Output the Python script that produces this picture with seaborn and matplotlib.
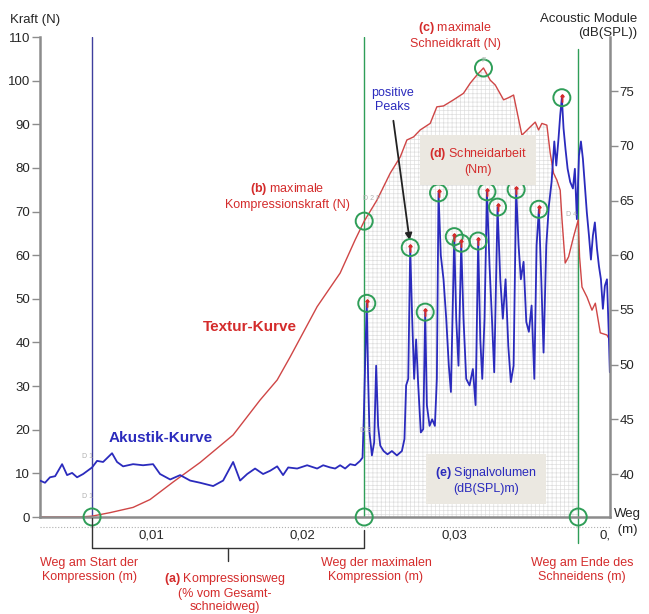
import numpy as np
import pandas as pd
import matplotlib
matplotlib.use('Agg')
import matplotlib.pyplot as plt
import seaborn as sns
from matplotlib.lines import Line2D

# Textur-Kurve: Weg (mm) und Kraft (N)
textur_mm = [2.64, 5.29, 6.08, 7.27, 8.79, 9.91, 11.43, 13.22, 15.40, 17.18, 18.31, 19.17,
             20.95, 22.47, 23.46, 24.06, 24.90, 25.78, 26.44, 26.88, 27.32, 27.76, 28.42,
             28.86, 29.30, 29.96, 30.62, 31.06, 31.51, 31.94, 32.39, 32.72, 33.27, 33.60,
             33.93, 34.48, 35.03, 35.36, 35.58, 35.80, 36.13, 36.35, 36.57, 36.79, 37.01,
             37.13, 37.34, 37.56, 37.89, 38.20, 38.29, 38.45, 38.78, 39.11, 39.33, 39.66,
             40.10, 40.27]
textur_kraft = [0, 0, 0.2, 1.0, 2.2, 4.0, 8.0, 12.5, 18.8, 26.8, 31.4, 36.7,
                48.2, 55.9, 63.5, 67.8, 72.6, 78.8, 82.5, 86.4, 87.1, 88.7, 90.2,
                94.0, 94.2, 95.6, 97.1, 99.4, 101.3, 102.9, 100.1, 99.0, 95.6, 96.1,
                96.7, 87.5, 89.4, 90.5, 88.7, 90.2, 89.8, 83.4, 78.8, 77.2, 74.9,
                68.1, 58.2, 59.6, 64.2, 68.1, 59.6, 52.7, 50.4, 47.4, 49.0, 42.2,
                41.7, 40.6]

# Akustik-Kurve: Weg (mm) und Schallpegel dB(SPL)
akustik_mm = [2.64, 2.97, 3.30, 3.64, 4.10, 4.43, 4.76, 5.09, 5.49, 6.08,
              6.41, 6.81, 7.40, 7.73, 8.13, 8.79, 9.45, 10.11, 10.57, 11.24,
              11.90, 12.56, 13.22, 14.08, 14.74, 15.40, 15.86, 16.33, 16.85, 17.38,
              17.85, 18.31, 18.70, 19.04, 19.63, 20.29, 20.95, 21.35,
              21.81, 22.14, 22.47, 22.80, 23.13, 23.46, 23.79, 23.95, 24.03, 24.15,
              24.23, 24.32, 24.41, 24.57, 24.72, 24.85, 24.98, 25.12, 25.34, 25.60,
              25.89, 26.22, 26.55, 26.72, 26.83, 26.97, 27.10, 27.23, 27.36, 27.49,
              27.63, 27.80, 27.96, 28.09, 28.20, 28.38, 28.55, 28.73, 28.86, 28.97,
              29.12, 29.30, 29.48, 29.65, 29.79, 30.01, 30.14, 30.29, 30.47, 30.62,
              30.80, 31.02, 31.24, 31.42, 31.59, 31.73, 31.86, 32.01, 32.17, 32.34,
              32.50, 32.65, 32.87, 33.05, 33.22, 33.40, 33.58, 33.75, 33.93, 34.10,
              34.26, 34.41, 34.59, 34.77, 34.94, 35.12, 35.30, 35.45, 35.60, 35.76,
              35.91, 36.09, 36.26, 36.44,
              36.62, 36.75, 36.90, 37.01, 37.12, 37.23, 37.36, 37.50, 37.67, 37.85,
              37.98, 38.11, 38.25, 38.38, 38.51, 38.64, 38.77, 38.91, 39.04, 39.17,
              39.30, 39.44, 39.57, 39.70, 39.83, 39.96, 40.10, 40.23, 40.29]
akustik_db = [39.4, 39.2, 39.7, 39.8, 40.9, 39.9, 40.1, 39.7, 40.0, 40.6,
              41.2, 41.1, 41.9, 41.1, 40.7, 40.9, 40.8, 40.9, 40.0, 39.5,
              39.9, 39.4, 39.2, 38.9, 39.4, 41.1, 39.4, 40.0, 40.5, 40.0,
              40.3, 40.7, 39.9, 40.6, 40.5, 40.8, 40.5, 40.8,
              40.6, 40.5, 40.8, 40.5, 40.9, 40.8, 41.2, 41.5, 45.0, 51.7,
              55.6, 48.7, 43.8, 41.7, 42.9, 49.9, 44.4, 42.6, 42.1, 41.8,
              42.1, 41.7, 42.1, 43.2, 48.1, 48.7, 60.7, 54.2, 48.7, 52.3,
              48.1, 43.8, 44.1, 54.8, 46.3, 44.4, 45.0, 44.4, 48.7, 65.7,
              60.0, 57.8, 54.2, 49.9, 47.5, 61.7, 54.2, 49.9, 61.1, 54.2,
              48.7, 48.1, 49.6, 46.3, 61.3, 52.3, 48.7, 54.2, 65.8, 59.1,
              54.2, 49.3, 64.4, 57.8, 54.2, 57.8, 51.7, 48.4, 49.9, 66.0,
              60.9, 57.8, 59.4, 53.9, 53.0, 55.4, 48.7, 60.9, 64.2, 57.8,
              51.1, 60.9, 64.5, 66.7,
              70.4, 68.2, 70.7, 72.8, 74.4, 71.6, 69.7, 67.9, 66.7, 66.1,
              67.9, 63.3, 69.1, 70.4, 68.8, 66.4, 63.9, 61.8, 59.6, 61.8,
              63.0, 60.6, 59.0, 57.8, 55.1, 57.2, 57.8, 52.3, 49.3]

# positive Peaks der Akustik-Kurve
peak_mm = [24.23, 27.10, 28.09, 28.97, 30.01, 30.47, 31.59, 32.17, 32.87, 34.10, 35.60, 37.12]
peak_db = [55.6, 60.7, 54.8, 65.7, 61.7, 61.1, 61.3, 65.8, 64.4, 66.0, 64.2, 74.4]

# Kennpunkte (m, N)
weg_start = 0.00608
weg_max_komp = 0.02406
weg_ende = 0.0382
kraft_max_komp = 67.8
weg_max_schneid = 0.03194
kraft_max_schneid = 102.9

x_ticks = [0.01, 0.02, 0.03, 0.04]
x_ticklabels = ['0,01', '0,02', '0,03', '0,']
kraft_ticks = list(range(0, 111, 10))
db_ticks = list(range(40, 76, 5))

RED = '#d42c2c'
LINE_RED = '#cf4646'
BLUE = '#2b2bbd'
GREEN = '#2f9e58'
GRAY = '#8c8c8c'
INK = '#262626'

sns.set_style('white')
plt.rcParams['font.family'] = ['Liberation Sans', 'DejaVu Sans']
plt.rcParams['mathtext.fontset'] = 'custom'
plt.rcParams['mathtext.rm'] = 'Liberation Sans'
plt.rcParams['mathtext.bf'] = 'Liberation Sans:bold'
plt.rcParams['hatch.linewidth'] = 0.5

W, H = 649, 614


def fx(px):
    return px / W


def fy(py):
    return 1 - py / H


fig = plt.figure(figsize=(W / 100, H / 100), dpi=100)
ax = fig.add_axes([fx(40), fy(517), 570 / W, 480 / H])
ax2 = ax.twinx()

textur = pd.DataFrame({'weg': np.array(textur_mm) / 1000, 'kraft': textur_kraft})
akustik = pd.DataFrame({'weg': np.array(akustik_mm) / 1000, 'db': akustik_db})
peaks = pd.DataFrame({'weg': np.array(peak_mm) / 1000, 'db': peak_db})

# Schneidarbeit: Flaeche unter der Textur-Kurve
sel = (textur.weg >= weg_max_komp - 1e-7) & (textur.weg <= weg_ende + 1e-7)
ax.fill_between(textur.weg[sel], 0, textur.kraft[sel], facecolor='none',
                edgecolor='#dedede', hatch='++++', lw=0, zorder=0)

sns.lineplot(data=textur, x='weg', y='kraft', ax=ax, color=LINE_RED, lw=1.0,
             sort=False, estimator=None, zorder=2)
sns.lineplot(data=akustik, x='weg', y='db', ax=ax2, color=BLUE, lw=1.3,
             sort=False, estimator=None, zorder=2)

ax.axvline(weg_start, color='#3f3f9e', lw=1.0, zorder=1)
ax.axvline(weg_max_komp, color=GREEN, lw=1.0, zorder=1)
ax.axvline(weg_ende, ymin=-0.054, ymax=0.975, color=GREEN, lw=1.0, zorder=1, clip_on=False)

# Kennpunkte
key_x = [weg_start, weg_max_komp, weg_ende, weg_max_komp, weg_max_schneid]
key_y = [0, 0, 0, kraft_max_komp, kraft_max_schneid]
ax.scatter(key_x, key_y, s=150, facecolors='none', edgecolors=GREEN, linewidths=1.4,
           zorder=5, clip_on=False)

sns.scatterplot(data=peaks, x='weg', y='db', ax=ax2, s=150, color='none',
                edgecolor=GREEN, linewidth=1.4, zorder=5)
ax2.scatter(peaks.weg, peaks.db, marker=r'$\uparrow$', s=28, color=RED, zorder=6)

ax.set_xlim(0.00264, 0.0403)
ax.set_ylim(0, 110)
ax2.set_ylim(36.07, 79.95)
ax.set_xticks(x_ticks)
ax.set_xticklabels(x_ticklabels)
ax.set_yticks(kraft_ticks)
ax2.set_yticks(db_ticks)
for a in (ax, ax2):
    a.set_xlabel('')
    a.set_ylabel('')
    a.grid(False)
ax.tick_params(axis='x', direction='out', length=5, width=1, color=GRAY, pad=4,
               labelsize=9.5, labelcolor=INK)
ax.tick_params(axis='y', direction='out', length=6, width=1, color=GRAY, pad=1,
               labelsize=9.5, labelcolor=INK)
ax2.tick_params(axis='y', direction='out', length=6, width=1, color=GRAY, pad=1,
                labelsize=9.5, labelcolor=INK)
for s in ['top', 'right']:
    ax.spines[s].set_visible(False)
for s in ['top', 'left', 'bottom']:
    ax2.spines[s].set_visible(False)
for sp in (ax.spines['left'], ax.spines['bottom'], ax2.spines['right']):
    sp.set_color(GRAY)
    sp.set_linewidth(1.8)


def fig_line(xs, ys, **kw):
    fig.add_artist(Line2D([fx(v) for v in xs], [fy(v) for v in ys], **kw))


fig_line([40, 610], [527, 527], color='#b0b0b0', lw=0.8, ls=':')
fig_line([92, 92, 364, 364], [518, 548, 548, 530], color='#333333', lw=1.0)
fig_line([228, 228], [548, 561], color='#333333', lw=1.0)

lab = dict(fontsize=9, ha='center', va='center', linespacing=1.2)
fig.text(fx(10), fy(20), 'Kraft (N)', fontsize=9.5, color=INK, ha='left', va='center')
fig.text(fx(637), fy(26), 'Acoustic Module\n(dB(SPL))', fontsize=9.5, color=INK,
         ha='right', va='center', multialignment='right', linespacing=1.25)
fig.text(fx(455), fy(35), r'$\mathbf{(c)}$ maximale' + '\nSchneidkraft (N)', color=RED, **lab)
fig.text(fx(287), fy(196), r'$\mathbf{(b)}$ maximale' + '\nKompressionskraft (N)', color=RED, **lab)
fig.text(fx(393), fy(100), 'positive\nPeaks', color=BLUE, **lab)
fig.text(fx(478), fy(161), r'$\mathbf{(d)}$ Schneidarbeit' + '\n(Nm)', color=RED,
         bbox=dict(boxstyle='square,pad=0.75', fc='#ebe8e1', ec='none'), **lab)
fig.text(fx(486), fy(480), r'$\mathbf{(e)}$ Signalvolumen' + '\n(dB(SPL)m)', color=BLUE,
         bbox=dict(boxstyle='square,pad=0.75', fc='#ebe8e1', ec='none'), **lab)
fig.text(fx(250), fy(327), 'Textur-Kurve', color=RED, fontsize=11, fontweight='bold',
         ha='center', va='center')
fig.text(fx(161), fy(438), 'Akustik-Kurve', color=BLUE, fontsize=11, fontweight='bold',
         ha='center', va='center')
fig.text(fx(614), fy(522), 'Weg\n (m)', fontsize=9.5, color=INK, ha='left',
         va='center', linespacing=1.35)
fig.text(fx(89), fy(570), 'Weg am Start der\nKompression (m)', color=RED, **lab)
fig.text(fx(376), fy(570), 'Weg der maximalen\nKompression (m)', color=RED, **lab)
fig.text(fx(582), fy(570), 'Weg am Ende des\nSchneidens (m)', color=RED, **lab)
fig.text(fx(225), fy(592), r'$\mathbf{(a)}$ Kompressionsweg' + '\n(% vom Gesamt-\nschneidweg)',
         color=RED, fontsize=9, ha='center', va='center', linespacing=1.15)

# kleine Markierungen
for px, py, s in [(88, 456, 'D 1'), (88, 497, 'D 1'), (372, 199, 'D 2 F'),
                  (366, 430, 'D 3'), (484, 60, 'F'), (572, 215, 'D 4')]:
    fig.text(fx(px), fy(py), s, fontsize=5, color='#b0b0b0', ha='center', va='center')

ax.annotate('', xy=(fx(410), fy(243)), xytext=(fx(393), fy(118)),
            xycoords='figure fraction', textcoords='figure fraction',
            arrowprops=dict(arrowstyle='-|>', color='#222222', lw=1.3, mutation_scale=10))

fig.savefig('out.png', dpi=100)
